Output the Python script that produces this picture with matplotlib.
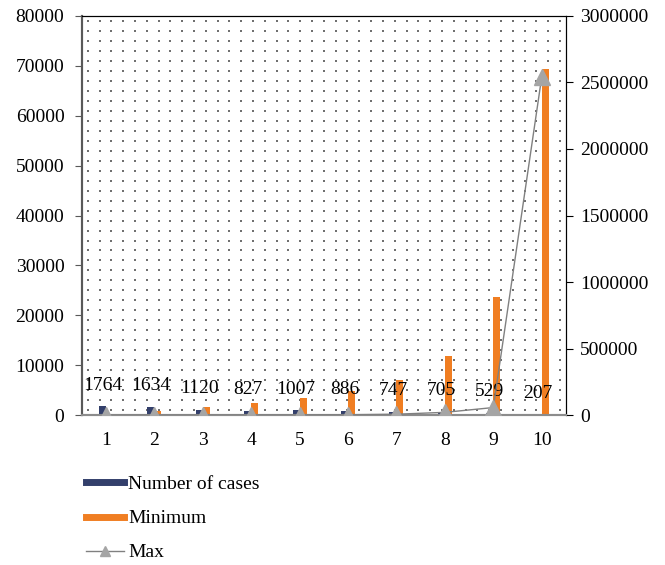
import numpy as np
import matplotlib
matplotlib.use('Agg')
import matplotlib.pyplot as plt
from matplotlib.lines import Line2D
from matplotlib.ticker import FuncFormatter

plt.rcParams['font.family'] = ['Liberation Serif', 'DejaVu Serif']

categories = [1, 2, 3, 4, 5, 6, 7, 8, 9, 10]
cases = [1764, 1634, 1120, 827, 1007, 886, 747, 705, 529, 207]
minimum = [300, 950, 1700, 2500, 3400, 4900, 7100, 11900, 23600, 69300]
maximum = [500, 800, 1200, 1800, 2500, 4000, 8000, 22000, 58000, 2540000]

navy = '#333F6B'
orange = '#F07E22'
grey = '#A5A5A5'
fs = 14

fig = plt.figure(figsize=(6.65, 5.65), dpi=100)
ax = fig.add_axes([0.123, 0.265, 0.728, 0.707])
ax2 = ax.twinx()

x = np.array(categories, dtype=float)
w = 0.145
ax.bar(x - w / 2, cases, width=w, color=navy, zorder=3)
ax.bar(x + w / 2, minimum, width=w, color=orange, zorder=3)

for xi, v in zip(x, cases):
    ax.annotate(str(v), (xi - w / 2, v), xytext=(0, 12), textcoords='offset points',
                ha='center', va='baseline', fontsize=fs, zorder=5)

ax2.plot(x, maximum, color='#808080', lw=1, marker='^', markersize=12,
         markerfacecolor=grey, markeredgecolor=grey, zorder=4)

# dotted background pattern
gx, gy = np.meshgrid((np.arange(41) + 0.5) / 41, (np.arange(40) + 0.5) / 40)
ax.scatter(gx.ravel(), gy.ravel(), s=1.0, color='#707070', marker='s', lw=0,
           transform=ax.transAxes, zorder=1)

ax.set_xlim(0.5, 10.5)
ax.set_ylim(0, 80000)
ax2.set_ylim(0, 3000000)
ax.set_xticks(categories)
ax.set_yticks(np.arange(0, 80001, 10000))
ax2.set_yticks(np.arange(0, 3000001, 500000))
ax2.yaxis.set_major_formatter(FuncFormatter(lambda v, p: '%d' % v))

ax.tick_params(axis='x', length=0, labelsize=fs, pad=12)
ax.tick_params(axis='y', length=5, direction='out', labelsize=fs, color='#595959', pad=7.5)
ax2.tick_params(axis='y', length=5, direction='out', labelsize=fs, pad=5)

for a in (ax, ax2):
    a.spines['left'].set_color('#595959')
    a.spines['left'].set_linewidth(1.5)
    a.spines['right'].set_color('black')
    a.spines['top'].set_color('black')
    a.spines['bottom'].set_color('#8C8C8C')
    a.spines['bottom'].set_linewidth(1.5)

ax.set_zorder(ax2.get_zorder() - 1)
ax2.patch.set_visible(False)

handles = [Line2D([], [], color=navy, lw=5),
           Line2D([], [], color=orange, lw=5),
           Line2D([], [], color='#808080', lw=1, marker='^', markersize=7,
                  markerfacecolor=grey, markeredgecolor=grey)]
fig.legend(handles, ['Number of cases', 'Minimum', 'Max'], loc='upper left',
           bbox_to_anchor=(0.117, 0.172), frameon=False, fontsize=fs,
           handlelength=2.0, handletextpad=0.2, labelspacing=0.85, borderaxespad=0)

fig.savefig('out.png', dpi=100)
